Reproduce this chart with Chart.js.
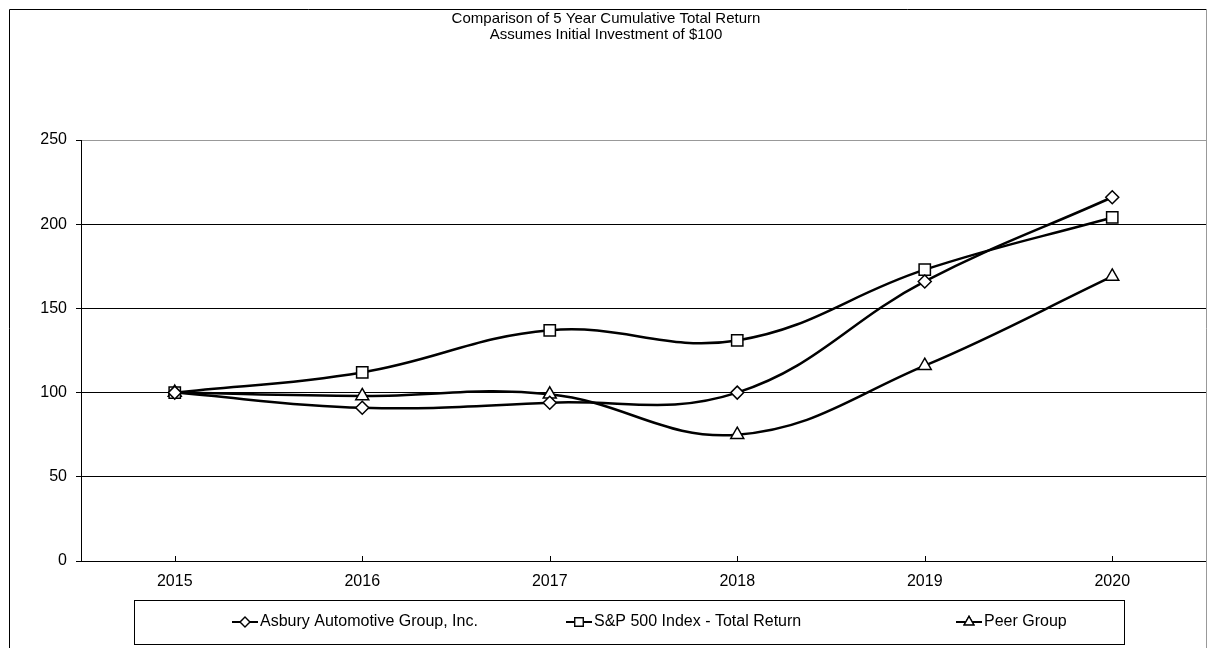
<!DOCTYPE html>
<html>
<head>
<meta charset="utf-8">
<script src="https://cdn.jsdelivr.net/npm/chart.js@4"></script>
<style>
  body { margin: 0; background: #fff; }
  #wrap { width: 1211px; height: 648px; position: relative; }
</style>
</head>
<body>
<div id="wrap"><canvas id="returnChart"></canvas></div>
<script>
  const years = ["2015", "2016", "2017", "2018", "2019", "2020"];
  const asbury = [100, 91, 94, 100, 166, 216];
  const sp500 = [100, 112, 137, 131, 173, 204];
  const peerGroup = [100, 98, 99, 75, 116, 169];
  const seriesNames = ["Asbury Automotive Group, Inc.", "S&P 500 Index - Total Return", "Peer Group"];
  const titleLines = ["Comparison of 5 Year Cumulative Total Return", "Assumes Initial Investment of $100"];

  const FONT = '"Liberation Sans", Arial, sans-serif';
  const markers = ['rectRot', 'rect', 'triangle'];
  const radii = [6.5, 8, 7.5];

  // frame, title and boxed legend
  const decorations = {
    id: 'decorations',
    afterDraw(chart) {
      const ctx = chart.ctx;
      ctx.save();
      ctx.lineWidth = 1;
      ctx.strokeStyle = '#000';
      ctx.beginPath();
      ctx.moveTo(9.5, 648);
      ctx.lineTo(9.5, 9.5);
      ctx.lineTo(1206.5, 9.5);
      ctx.stroke();
      ctx.strokeStyle = '#999';
      ctx.beginPath();
      ctx.moveTo(1206.5, 9.5);
      ctx.lineTo(1206.5, 648);
      ctx.stroke();

      ctx.fillStyle = '#000';
      ctx.font = '15px ' + FONT;
      ctx.textAlign = 'center';
      ctx.textBaseline = 'middle';
      ctx.fillText(titleLines[0], 606, 19);
      ctx.fillText(titleLines[1], 606, 35);

      // small ticks at category centres, pointing into the plot
      const xs = chart.scales.x;
      const bottom = chart.chartArea.bottom;
      ctx.strokeStyle = '#000';
      ctx.lineWidth = 1;
      years.forEach((y, i) => {
        const px = Math.round(xs.getPixelForValue(i)) + 0.5;
        ctx.beginPath();
        ctx.moveTo(px, bottom);
        ctx.lineTo(px, bottom - 5);
        ctx.stroke();
      });

      ctx.strokeRect(134.5, 600.5, 990, 44);
      const starts = [232, 566, 956];
      const ly = 622;
      chart.data.datasets.forEach((ds, i) => {
        const x0 = starts[i];
        ctx.lineWidth = 2;
        ctx.strokeStyle = '#000';
        ctx.beginPath();
        ctx.moveTo(x0, ly);
        ctx.lineTo(x0 + 26, ly);
        ctx.stroke();
        ctx.lineWidth = 1.3;
        ctx.fillStyle = '#fff';
        ctx.beginPath();
        Chart.helpers.drawPoint(ctx, { pointStyle: markers[i], radius: radii[i] * 0.75, rotation: 0, borderWidth: 1.3 }, x0 + 13, ly);
        ctx.fill();
        ctx.stroke();
        ctx.fillStyle = '#000';
        ctx.font = '16px ' + FONT;
        ctx.textAlign = 'left';
        ctx.fillText(ds.label, x0 + 28, ly);
      });
      ctx.restore();
    }
  };

  const mkSeries = (label, data, i) => ({
    label: label,
    data: data,
    borderColor: '#000',
    borderWidth: 2.5,
    tension: 0.4,
    pointStyle: markers[i],
    pointRadius: radii[i],
    pointHoverRadius: radii[i],
    pointBackgroundColor: '#fff',
    pointBorderColor: '#000',
    pointBorderWidth: 1.5,
    fill: false
  });

  new Chart(document.getElementById('returnChart'), {
    type: 'line',
    data: {
      labels: years,
      datasets: [
        mkSeries(seriesNames[0], asbury, 0),
        mkSeries(seriesNames[1], sp500, 1),
        mkSeries(seriesNames[2], peerGroup, 2)
      ]
    },
    options: {
      responsive: true,
      maintainAspectRatio: false,
      animation: false,
      layout: { autoPadding: false, padding: { top: 140, right: 5, left: 0, bottom: 0 } },
      plugins: {
        legend: { display: false },
        title: { display: false },
        tooltip: { enabled: false }
      },
      scales: {
        x: {
          offset: true,
          grid: { display: true, drawOnChartArea: false, drawTicks: false },
          border: { color: '#000', width: 1 },
          ticks: { color: '#000', font: { family: FONT, size: 16 }, padding: 11 },
          afterFit(scale) { scale.height = 87; }
        },
        y: {
          min: 0,
          max: 250,
          ticks: { stepSize: 50, color: '#000', font: { family: FONT, size: 16 }, padding: 9 },
          grid: {
            color: ctx => ctx.tick && ctx.tick.value === 250 ? '#999' : '#000',
            tickColor: '#000',
            tickLength: 5,
            lineWidth: 1
          },
          border: { color: '#000', width: 1 },
          afterFit(scale) { scale.width = 81; }
        }
      }
    },
    plugins: [decorations]
  });
</script>
</body>
</html>
